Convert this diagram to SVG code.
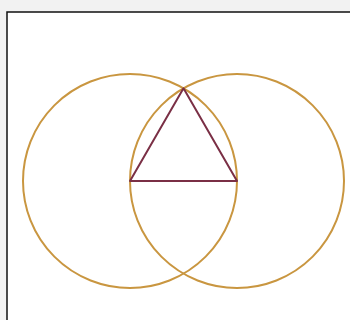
<svg xmlns="http://www.w3.org/2000/svg" width="350" height="320" viewBox="0 0 350 320">
<style>
.c{fill:none;stroke:#c99640;stroke-width:2}
.t{fill:none;stroke:#7a2f45;stroke-width:2;stroke-linejoin:round}
</style>
<rect x="0" y="0" width="350" height="320" fill="#f2f2f2"/>
<rect x="7" y="12" width="345" height="310" fill="#ffffff" stroke="#111" stroke-width="1.5"/>
<g id="circle-left"><circle class="c" cx="130" cy="181" r="107"/></g>
<g id="circle-right"><circle class="c" cx="237" cy="181" r="107"/></g>
<g id="triangle"><polygon class="t" points="130,181 237,181 183.5,88.3"/></g>
</svg>
